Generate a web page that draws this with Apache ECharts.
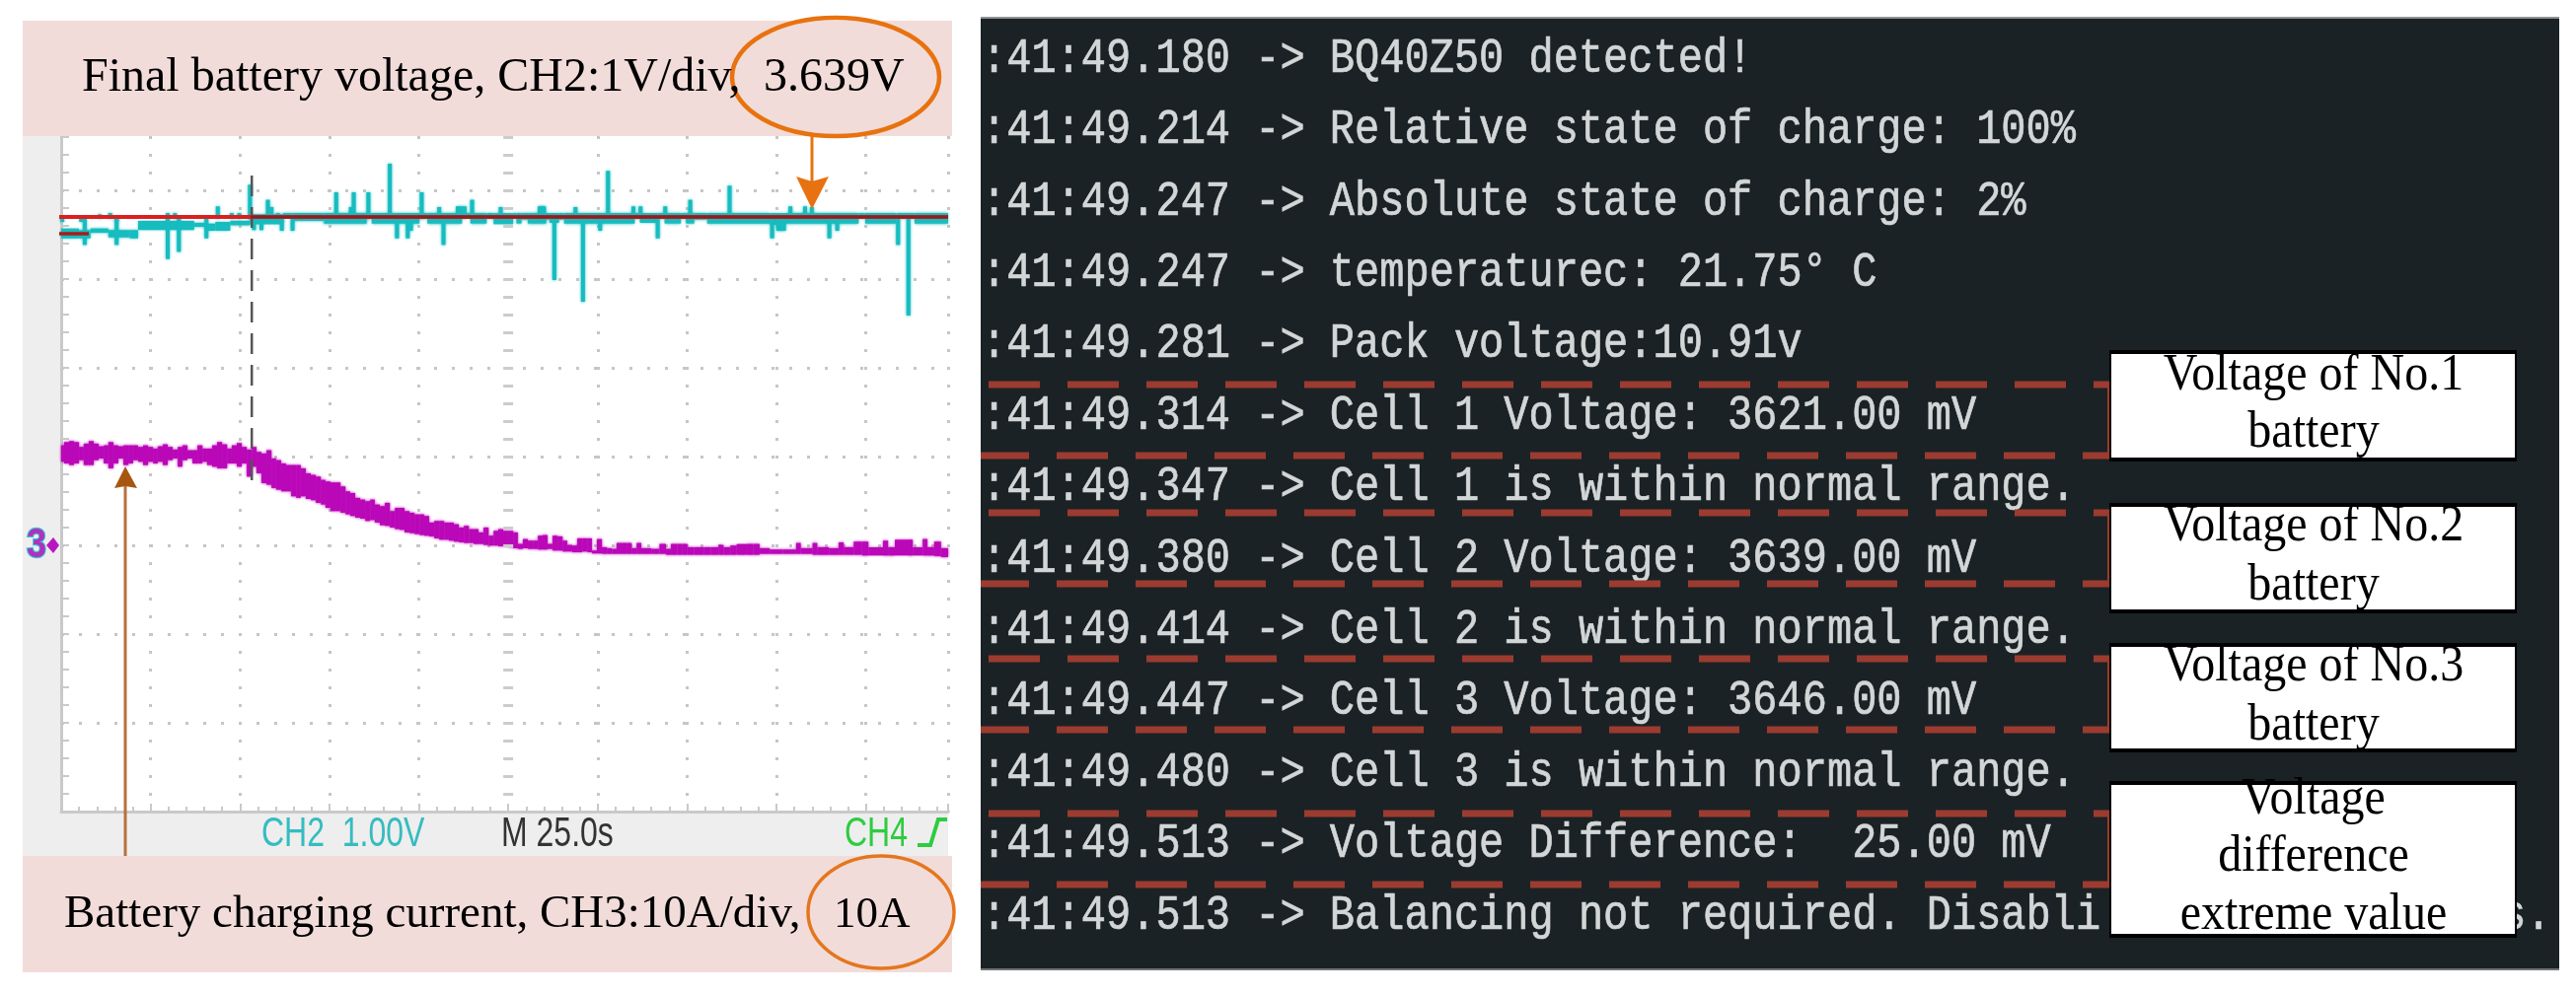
<!DOCTYPE html>
<html>
<head>
<meta charset="utf-8">
<title>Battery charging</title>
<script src="https://cdn.jsdelivr.net/npm/echarts@6/dist/echarts.min.js"></script>
<style>
  html, body { margin: 0; padding: 0; background: #fff; }
  #chart { width: 2611px; height: 1008px; }
</style>
</head>
<body>
<div id="chart"></div>
<script>
// CH2 voltage trace: thick noisy band (s, s, V, V)
var cyanStart = [0, 5.0, 8.2, 13.2, 19.2, 21.5, 37.2, 40.4, 43.1, 47.3, 52.8, 62.0, 64.7, 73.5, 85.4, 86.8, 100.2, 102.4, 112.1, 114.4, 119.0, 120.9, 126.4, 127.3, 128.7, 130.5, 135.6, 136.5, 139.2, 140.6, 160.4, 161.8, 166.8, 168.7, 173.3, 174.7, 177.0, 180.6, 198.1, 202.5, 223.0, 224.8, 233.5, 238.6];
var cyanEnd = [5.0, 8.2, 13.2, 19.2, 21.5, 37.2, 40.4, 43.1, 47.3, 52.8, 62.0, 64.7, 73.5, 85.4, 86.8, 100.2, 102.4, 112.1, 114.4, 119.0, 120.9, 126.4, 127.3, 128.7, 130.5, 135.6, 136.5, 139.2, 140.6, 160.4, 161.8, 166.8, 168.7, 173.3, 174.7, 177.0, 180.6, 198.1, 202.5, 223.0, 224.8, 233.5, 238.6, 248];
var cyanHigh = [3.509, 3.491, 3.509, 3.491, 3.491, 3.595, 3.572, 3.565, 3.583, 3.595, 3.669, 3.683, 3.683, 3.683, 3.683, 3.683, 3.683, 3.683, 3.683, 3.683, 3.683, 3.683, 3.683, 3.683, 3.683, 3.683, 3.683, 3.683, 3.683, 3.683, 3.683, 3.683, 3.683, 3.683, 3.683, 3.683, 3.683, 3.683, 3.683, 3.683, 3.683, 3.683, 3.683, 3.683];
var cyanLow = [3.398, 3.398, 3.461, 3.409, 3.398, 3.491, 3.528, 3.483, 3.483, 3.546, 3.557, 3.639, 3.595, 3.565, 3.62, 3.565, 3.62, 3.565, 3.639, 3.565, 3.62, 3.557, 3.639, 3.565, 3.609, 3.565, 3.609, 3.572, 3.609, 3.565, 3.62, 3.572, 3.62, 3.565, 3.62, 3.565, 3.609, 3.565, 3.55, 3.565, 3.62, 3.565, 3.62, 3.565];

// CH2 spikes away from the band (s, V)
var spikeTime = [0.3, 5.6, 10.8, 13.7, 15.5, 29.8, 31.8, 43.8, 47.7, 49.8, 52.8, 57.8, 58.8, 60.6, 76.9, 81.0, 81.8, 85.9, 91.9, 100.8, 105.7, 110.9, 111.8, 112.8, 114.9, 122.9, 133.8, 134.4, 135.0, 143.8, 152.9, 160.0, 162.0, 168.9, 175.9, 186.9, 203.9, 208.0, 209.9,
  6.6, 15.5, 29.8, 32.9, 40.6, 53.9, 56.0, 61.7, 64.7, 93.9, 96.9, 97.8, 106.9, 137.9, 145.9, 150.7, 166.8, 198.8, 200.5, 201.3, 202.1, 214.8, 217.0, 234.0, 236.9];
var spikeVolt = [3.583, 3.583, 3.669, 3.683, 3.583, 3.683, 3.683, 3.758, 3.683, 3.683, 4.002, 3.832, 3.75, 3.683, 3.917, 3.75, 3.917, 3.917, 4.239, 3.917, 3.75, 3.758, 3.758, 3.758, 3.832, 3.75, 3.758, 3.758, 3.758, 3.75, 4.158, 3.758, 3.758, 3.758, 3.832, 3.991, 3.758, 3.758, 3.75,
  3.324, 3.324, 3.165, 3.246, 3.398, 3.491, 3.491, 3.483, 3.483, 3.398, 3.398, 3.483, 3.324, 2.928, 2.683, 3.483, 3.398, 3.398, 3.483, 3.483, 3.483, 3.398, 3.483, 3.324, 2.528];

// CH3 current envelope (s, A, A)
var currentTime = [0, 0.8, 2.2, 3.6, 5.0, 6.3, 7.7, 9.1, 10.5, 11.9, 13.2, 14.6, 16.0, 17.4, 18.8, 20.1, 21.5, 22.9, 24.3, 25.7, 27.0, 28.4, 29.8, 31.2, 32.6, 33.9, 35.3, 36.7, 38.1, 39.5, 40.8, 42.2, 43.6, 45.0, 46.4, 47.7, 49.1, 50.5, 51.9, 53.3, 54.6, 56.0, 57.4, 58.8, 60.1, 61.5, 62.9, 64.3, 65.7, 67.0, 68.4, 69.8, 71.2, 72.6, 73.9, 75.3, 76.7, 78.1, 79.5, 80.8, 82.2, 83.6, 85.0, 86.4, 87.7, 89.1, 90.5, 91.9, 93.3, 94.6, 96.0, 97.4, 98.8, 100.2, 101.5, 102.9, 104.3, 105.7, 107.1, 108.4, 109.8, 111.2, 112.6, 114.0, 115.3, 116.7, 118.1, 119.5,
  120.9, 122.2, 123.6, 125.0, 126.4, 127.7, 129.1, 130.5, 131.9, 133.3, 134.6, 136.0, 137.4, 138.8, 140.2, 141.5, 142.9, 144.3, 145.7, 147.1, 148.4, 149.8, 151.2, 152.6, 154.0, 155.3, 156.7, 158.1, 159.5, 160.9, 162.2, 165.0, 167.3, 169.1, 170.5, 172.3, 173.7, 175.1, 177.0, 179.7, 181.6, 183.8, 185.2, 187.1, 188.9, 191.7, 193.5, 195.3, 198.1, 201.8, 205.5, 206.8, 210.1, 211.4, 214.7, 217.4, 218.8, 221.6, 223.9, 225.7, 229.8, 231.2, 233.1, 236.7, 238.1, 240.9, 242.2, 244.1, 246.0];
var currentHigh = [11.26, 11.63, 11.74, 11.63, 11.08, 11.45, 11.74, 11.45, 11.15, 11.26, 11.63, 11.26, 11.15, 11.26, 11.26, 11.26, 11.08, 11.26, 11.08, 10.89, 11.15, 11.37, 11.08, 10.78, 11.08, 11.26, 10.71, 10.71, 11.26, 10.89, 10.89, 11.26, 11.63, 11.37, 10.89, 11.26, 11.52, 11.08, 10.78, 11.08, 10.52, 10.34, 10.71, 9.78, 9.59, 9.22, 9.04, 9.04, 9.04, 8.67, 8.11, 7.93, 7.74, 7.37, 7.19, 7.08, 7.08, 6.63, 6.08, 5.89, 5.34, 5.15, 4.97, 5.15, 4.59, 4.41, 4.78, 3.85, 4.22, 4.22, 3.85, 3.67, 3.48, 3.48, 3.30, 2.56, 2.74, 2.74, 2.56, 2.56, 2.37, 2.0, 2.19, 1.82, 1.82, 1.45, 2.0, 1.08,
  1.63, 1.82, 1.63, 1.63, 1.45, 0.15, 0.7, 0.52, 0.52, 1.08, 1.15, 0.15, 1.08, 1.0, 0.52, 0.04, -0.03, 0.78, 0.78, 0.78, -0.59, 0.7, -0.22, -0.33, -0.41, 0.26, 0.26, 0.26, -0.33, 0.26, -0.33, -0.41, 0.15, -0.41, 0.15, 0.15, 0.15, -0.22, -0.22, -0.22, -0.22, 0.04, -0.22, -0.03, 0.15, 0.15, 0.15, -0.33, -0.48, -0.48, 0.26, -0.33, 0.26, -0.22, -0.33, 0.33, -0.22, 0.41, 0.41, -0.22, 0.52, -0.22, 0.63, 0.63, -0.22, 0.7, -0.22, 0.41, -0.33];
var currentLow = [9.41, 9.22, 9.04, 9.22, 9.59, 9.04, 9.04, 9.59, 9.78, 9.22, 8.67, 9.22, 9.78, 9.04, 9.22, 9.59, 9.41, 9.04, 9.41, 9.22, 9.41, 9.04, 9.59, 9.78, 8.85, 9.59, 9.78, 9.22, 9.22, 9.41, 9.04, 8.85, 8.67, 8.67, 9.22, 9.22, 8.85, 9.22, 7.74, 8.85, 8.11, 7.0, 6.82, 6.45, 6.26, 6.08, 6.08, 5.52, 5.34, 5.52, 5.22, 5.08, 4.78, 4.59, 4.22, 3.85, 3.85, 3.67, 3.48, 3.30, 3.11, 3.0, 2.74, 2.85, 2.56, 2.26, 2.19, 2.0, 1.82, 1.74, 1.45, 1.37, 1.26, 1.15, 1.08, 1.0, 0.78, 0.63, 0.63, 0.52, 0.41, 0.33, 0.26, 0.26, 0.15, 0.15, 0.04, -0.03,
  -0.03, -0.11, -0.11, -0.22, -0.33, -0.41, -0.33, -0.41, -0.41, -0.48, -0.48, -0.41, -0.59, -0.59, -0.7, -0.7, -0.78, -0.78, -0.7, -0.78, -0.92, -0.92, -0.96, -0.96, -0.96, -0.96, -0.96, -0.96, -0.96, -0.96, -0.96, -0.96, -0.96, -1.07, -1.07, -1.07, -1.07, -1.07, -1.07, -1.07, -1.07, -1.07, -1.07, -1.07, -1.07, -1.07, -1.07, -0.96, -0.96, -0.96, -0.96, -0.96, -1.07, -1.07, -1.07, -1.07, -1.07, -1.07, -1.15, -1.15, -1.15, -1.15, -1.15, -1.15, -1.15, -1.15, -1.15, -1.22, -1.33];

// cursors and the centre column of the graticule
var finalVoltTime = [-1.4, 248];
var finalVolt = [3.639, 3.639];
var finalVoltDarkTime = [53.0, 248];
var startVoltTime = [-1.4, 7.7];
var startVolt = [3.45, 3.45];
var cursorTime = [53.3, 53.3];
var cursorVolt = [4.106, 0.639];
var centreTime = [125, 125];
var centreAmp = [46.1, -30];

// texts
var topLabel = 'Final battery voltage, CH2:1V/div,';
var topValue = '3.639V';
var bottomLabel = 'Battery charging current, CH3:10A/div,';
var bottomValue = '10A';
var terminalLines = [
  ':41:49.180 -> BQ40Z50 detected!',
  ':41:49.214 -> Relative state of charge: 100%',
  ':41:49.247 -> Absolute state of charge: 2%',
  ':41:49.247 -> temperaturec: 21.75° C',
  ':41:49.281 -> Pack voltage:10.91v',
  ':41:49.314 -> Cell 1 Voltage: 3621.00 mV',
  ':41:49.347 -> Cell 1 is within normal range.',
  ':41:49.380 -> Cell 2 Voltage: 3639.00 mV',
  ':41:49.414 -> Cell 2 is within normal range.',
  ':41:49.447 -> Cell 3 Voltage: 3646.00 mV',
  ':41:49.480 -> Cell 3 is within normal range.',
  ':41:49.513 -> Voltage Difference:  25.00 mV',
  ':41:49.513 -> Balancing not required. Disabli'
];
var terminalTail = 's.';
var boxLabels = [
  ['Voltage of No.1', 'battery'],
  ['Voltage of No.2', 'battery'],
  ['Voltage of No.3', 'battery'],
  ['Voltage', 'difference', 'extreme value']
];

function pairs(xs, ys) {
  return xs.map(function (x, i) { return [x, ys[i]]; });
}

var cyanData = cyanStart.map(function (s, i) {
  return [s, cyanEnd[i], cyanLow[i], cyanHigh[i]];
});
spikeTime.forEach(function (t, i) {
  cyanData.push([t - 0.55, t + 0.55, Math.min(spikeVolt[i], 3.62), Math.max(spikeVolt[i], 3.62)]);
});
var currentData = currentTime.map(function (t, i) {
  var next = i + 1 < currentTime.length ? currentTime[i + 1] : 248;
  return [t, next, currentLow[i], currentHigh[i]];
});

// the scope capture is soft, so the columns get a small glow of their own colour
function renderColumn(color) {
  return function (params, api) {
    var a = api.coord([api.value(0), api.value(3)]);
    var b = api.coord([api.value(1), api.value(2)]);
    return {
      type: 'rect',
      shape: { x: a[0], y: a[1], width: b[0] - a[0], height: b[1] - a[1] },
      style: { fill: color, shadowBlur: 3, shadowColor: color }
    };
  };
}

function lineSeries(name, data, axis, color, width, dash) {
  return {
    name: name,
    type: 'line',
    yAxisIndex: axis,
    data: data,
    symbol: 'none',
    clip: false,
    silent: true,
    lineStyle: { color: color, width: width, type: dash || 'solid', cap: 'butt' }
  };
}

// text helper: y is the baseline
function label(x, baseline, str, size, color, opts) {
  opts = opts || {};
  var sy = opts.scaleY || 1;
  return {
    type: 'text',
    z: opts.z || 100,
    x: x,
    y: baseline - 0.31 * size * sy,
    scaleY: sy,
    style: {
      text: str,
      fill: color,
      font: (opts.weight || 'normal') + ' ' + size + 'px "' + (opts.family || 'Liberation Serif') + '"',
      align: opts.align || 'left',
      verticalAlign: 'middle',
      stroke: opts.stroke,
      lineWidth: opts.strokeWidth || 0
    }
  };
}

function rect(x, y, w, h, fill, z) {
  return { type: 'rect', z: z, shape: { x: x, y: y, width: w, height: h }, style: { fill: fill } };
}

function redDash(y, offset) {
  return {
    type: 'line', z: 60,
    shape: { x1: 994, y1: y, x2: 2138, y2: y },
    style: { stroke: '#9c3b30', lineWidth: 7, lineDash: [52, 28], lineDashOffset: offset }
  };
}

var ORANGE = '#e8720f';
var termText = { family: 'Liberation Mono', scaleY: 1.2, z: 30, stroke: '#d2d6d6', strokeWidth: 0.6 };
var elements = [
  // scope frame behind the grid
  rect(23, 138, 938, 730, '#eeeeee', -10),
  // pink caption bands
  rect(23, 21, 942, 117, '#f1dcd9', 50),
  rect(23, 868, 942, 118, '#f1dcd9', 50),
  label(83, 94, topLabel, 48, '#000'),
  label(774, 94, topValue, 48, '#000'),
  label(65, 942, bottomLabel, 47, '#000'),
  label(845, 942, bottomValue, 45, '#000'),
  { type: 'ellipse', z: 70, shape: { cx: 847, cy: 78, rx: 105, ry: 60 }, style: { fill: 'none', stroke: ORANGE, lineWidth: 4.5 } },
  { type: 'ellipse', z: 70, shape: { cx: 893, cy: 925, rx: 74, ry: 57 }, style: { fill: 'none', stroke: '#e5761e', lineWidth: 3.5 } },
  // arrows
  { type: 'line', z: 40, shape: { x1: 823, y1: 138, x2: 823, y2: 190 }, style: { stroke: ORANGE, lineWidth: 3 } },
  { type: 'polygon', z: 40, shape: { points: [[807, 179], [823, 184], [840, 179], [823, 212]] }, style: { fill: ORANGE } },
  { type: 'line', z: 40, shape: { x1: 127, y1: 490, x2: 127, y2: 868 }, style: { stroke: '#b8703c', lineWidth: 3 } },
  { type: 'polygon', z: 40, shape: { points: [[127, 473], [139, 495], [127, 493], [116, 495]] }, style: { fill: '#a8560f' } },
  // scope readouts
  label(265, 859, 'CH2  1.00V', 32, '#35bcc0', { family: 'Liberation Sans', scaleY: 1.3, z: 30 }),
  label(508, 859, 'M 25.0s', 32, '#333333', { family: 'Liberation Sans', scaleY: 1.3, z: 30 }),
  label(856, 859, 'CH4', 32, '#2ecc40', { family: 'Liberation Sans', scaleY: 1.3, z: 30 }),
  { type: 'polyline', z: 30, shape: { points: [[930, 857], [943, 857], [951, 831], [960, 831]] }, style: { fill: 'none', stroke: '#2ecc40', lineWidth: 4 } },
  label(27, 566, '3', 36, '#b030c0', { family: 'Liberation Sans', weight: 'bold', scaleY: 1.2, stroke: '#3ac0d0', strokeWidth: 2, z: 30 }),
  { type: 'polygon', z: 30, shape: { points: [[47, 553], [54, 545], [60, 553], [54, 561]] }, style: { fill: '#b818c0' } },
  // terminal screenshot
  rect(994, 18, 1600, 965, '#1b2225', 20),
  rect(994, 17, 1600, 2, '#8e9192', 21),
  rect(994, 982, 1600, 2, '#6f7476', 21)
];

terminalLines.forEach(function (line, i) {
  elements.push(label(995, 75 + 72.4 * i, line, 42, '#d2d6d6', termText));
});
elements.push(label(995 + 25.25 * 61, 75 + 72.4 * 12, terminalTail, 42, '#d2d6d6', termText));

// red dashed frames round the cell voltage lines
[[390, 462], [520, 592], [668, 740], [825, 897]].forEach(function (f) {
  elements.push(redDash(f[0], -8));
  elements.push(redDash(f[1], 3));
  elements.push(rect(2136, f[0], 2, f[1] - f[0], '#9c3b30', 60));
});

// white note boxes
var boxFrames = [[355, 468], [510, 622], [652, 763], [792, 951]];
var boxBaselines = [[397, 455], [550, 610], [692, 752], [827, 885, 944]];
boxFrames.forEach(function (f, i) {
  elements.push(rect(2138, f[0], 413, f[1] - f[0], '#000', 80));
  elements.push(rect(2140, f[0] + 4, 409, f[1] - f[0] - 8, '#fff', 81));
  boxLabels[i].forEach(function (txt, j) {
    elements.push(label(2345, boxBaselines[i][j], txt, 48, '#000', { align: 'center', scaleY: 1.1, z: 82 }));
  });
});

var myChart = echarts.init(document.getElementById('chart'), null, { renderer: 'canvas' });
var option = {
  animation: false,
  backgroundColor: '#ffffff',
  grid: { left: 62, top: 138, width: 899, height: 685, show: true, backgroundColor: '#ffffff', borderWidth: 0, containLabel: false },
  xAxis: {
    type: 'value',
    min: 0,
    max: 248,
    interval: 25,
    axisLabel: { show: false },
    axisLine: { show: true, onZero: false, lineStyle: { color: '#c9c9c9', width: 3 } },
    axisTick: { show: true, inside: true, length: 8, lineStyle: { color: '#c9c9c9', width: 2 } },
    minorTick: { show: true, splitNumber: 5, length: 5, lineStyle: { color: '#c9c9c9', width: 2 } },
    splitLine: { show: true, showMinLine: false, lineStyle: { color: '#c6c6c6', width: 3, type: [3, 15] } }
  },
  yAxis: [
    {
      // CH3, 10 A/div, ground at the "3" marker
      type: 'value',
      min: -30,
      max: 46.1,
      interval: 10,
      axisLabel: { show: false },
      axisLine: { show: true, onZero: false, lineStyle: { color: '#c9c9c9', width: 3 } },
      axisTick: { show: true, inside: true, length: 8, lineStyle: { color: '#c9c9c9', width: 2 } },
      minorTick: { show: true, splitNumber: 5, length: 8, lineStyle: { color: '#c9c9c9', width: 2 } },
      splitLine: { show: true, showMinLine: false, showMaxLine: false, lineStyle: { color: '#c6c6c6', width: 3, type: [3, 15] } }
    },
    {
      // CH2, 1 V/div
      type: 'value',
      show: false,
      min: -3.06,
      max: 4.55,
      splitLine: { show: false }
    }
  ],
  series: [
    lineSeries('centre', pairs(centreTime, centreAmp), 0, '#cccccc', 10, [3, 15]),
    {
      name: 'CH2',
      type: 'custom',
      yAxisIndex: 1,
      silent: true,
      clip: false,
      renderItem: renderColumn('#17bcbf'),
      encode: { x: [0, 1], y: [2, 3] },
      data: cyanData
    },
    {
      name: 'CH3',
      type: 'custom',
      yAxisIndex: 0,
      silent: true,
      clip: false,
      renderItem: renderColumn('#ba08b8'),
      encode: { x: [0, 1], y: [2, 3] },
      data: currentData
    },
    lineSeries('cursor', pairs(cursorTime, cursorVolt), 1, '#555555', 2.5, [21, 11]),
    lineSeries('final', pairs(finalVoltTime, finalVolt), 1, '#dd1f1f', 4),
    lineSeries('final dark', pairs(finalVoltDarkTime, finalVolt), 1, '#8f1f1f', 3),
    lineSeries('start', pairs(startVoltTime, startVolt), 1, '#a81c1c', 3.5)
  ],
  graphic: { elements: elements }
};
myChart.setOption(option);
</script>
</body>
</html>
